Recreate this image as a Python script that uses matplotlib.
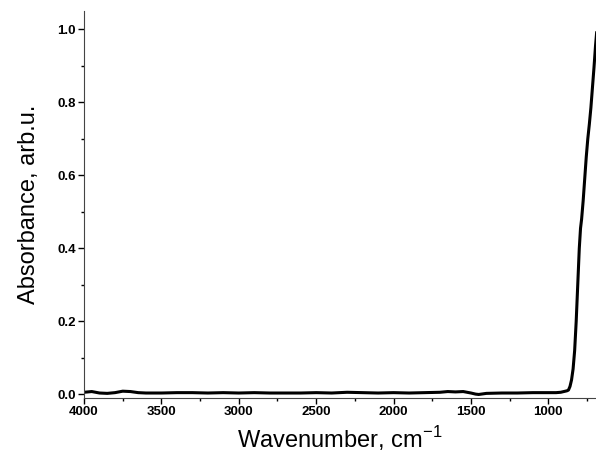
import matplotlib
matplotlib.use('Agg')
import matplotlib.pyplot as plt
from matplotlib.ticker import MultipleLocator

plt.rcParams['font.family'] = ['Liberation Sans', 'DejaVu Sans']

# IR spectrum
wavenumber = [4000, 3950, 3900, 3850, 3800, 3750, 3700, 3650, 3600, 3500,
              3400, 3300, 3200, 3100, 3000, 2900, 2800, 2700, 2600, 2500,
              2400, 2300, 2200, 2100, 2000, 1900, 1800, 1700, 1650, 1600,
              1550, 1500, 1470, 1450, 1400, 1300, 1200, 1100, 1000, 950,
              920, 900, 880, 870, 860, 850, 840, 830, 820, 810,
              800, 792, 785, 775, 765, 755, 745, 735, 725, 715,
              705, 695, 688]
absorbance = [0.006, 0.008, 0.004, 0.003, 0.005, 0.009, 0.008, 0.005, 0.004, 0.004,
              0.005, 0.005, 0.004, 0.005, 0.004, 0.005, 0.004, 0.004, 0.004, 0.005,
              0.004, 0.006, 0.005, 0.004, 0.005, 0.004, 0.005, 0.006, 0.008, 0.007,
              0.008, 0.004, 0.001, 0.000, 0.003, 0.004, 0.004, 0.005, 0.005, 0.005,
              0.006, 0.008, 0.010, 0.012, 0.022, 0.040, 0.070, 0.120, 0.200, 0.300,
              0.400, 0.455, 0.480, 0.530, 0.590, 0.650, 0.700, 0.740, 0.785, 0.840,
              0.895, 0.955, 0.990]

fig = plt.figure(figsize=(5.96, 4.55), dpi=100)
ax = fig.add_axes([0.141, 0.125, 0.859, 0.851])
ax.plot(wavenumber, absorbance, color='black', lw=2.2)

ax.set_xlim(4000, 692)
ax.set_ylim(-0.01, 1.05)
ax.xaxis.set_major_locator(MultipleLocator(500))
ax.xaxis.set_minor_locator(MultipleLocator(250))
ax.yaxis.set_major_locator(MultipleLocator(0.2))
ax.yaxis.set_minor_locator(MultipleLocator(0.1))
ax.yaxis.set_major_formatter(matplotlib.ticker.FormatStrFormatter('%.1f'))

ax.spines['top'].set_visible(False)
ax.spines['right'].set_visible(False)
ax.spines['left'].set_color('#444444')
ax.spines['bottom'].set_color('#444444')
ax.tick_params(which='major', length=4, width=1, labelsize=9.5, pad=2)
ax.tick_params(which='minor', length=2.5, width=1)
for lab in ax.get_xticklabels() + ax.get_yticklabels():
    lab.set_fontweight('bold')

ax.set_xlabel('Wavenumber, cm$^{\\mathregular{-1}}$', fontsize=17, labelpad=4)
ax.set_ylabel('Absorbance, arb.u.', fontsize=17, labelpad=12)

fig.savefig('out.png', dpi=100)
